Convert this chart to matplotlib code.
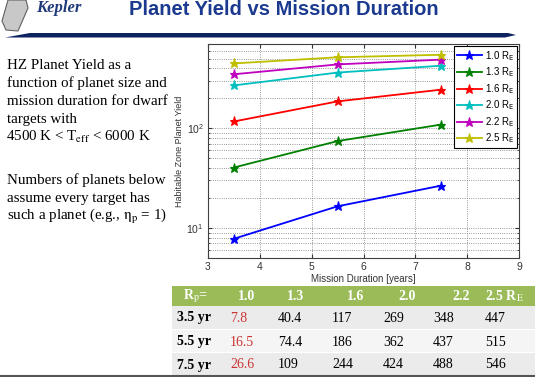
import numpy as np
import matplotlib
import matplotlib.pyplot as plt
from matplotlib.patches import Polygon, Rectangle
from matplotlib.ticker import NullFormatter

plt.rcParams['font.family'] = 'Liberation Sans'

# yield of habitable-zone planets (from the table on the slide)
durations = [3.5, 5.5, 7.5]
duration_labels = ['3.5 yr', '5.5 yr', '7.5 yr']
sizes = ['1.0', '1.3', '1.6', '2.0', '2.2', '2.5']
yield_10 = [7.8, 16.5, 26.6]
yield_13 = [40.4, 74.4, 109]
yield_16 = [117, 186, 244]
yield_20 = [269, 362, 424]
yield_22 = [348, 437, 488]
yield_25 = [447, 515, 546]
table_text = [
    ['7.8', '40.4', '117', '269', '348', '447'],
    ['16.5', '74.4', '186', '362', '437', '515'],
    ['26.6', '109', '244', '424', '488', '546'],
]

W, H = 535, 377
def fx(x):
    return x / W
def fy(y):
    return 1 - y / H

fig = plt.figure(figsize=(W / 100, H / 100), dpi=100)
fig.patch.set_facecolor('white')

# ---- header: logo, title, rule
fig.patches.append(Polygon([(fx(8), fy(0)), (fx(26), fy(0)), (fx(28), fy(8)),
                            (fx(18), fy(31)), (fx(6), fy(30)), (fx(2), fy(21))],
                           closed=True, transform=fig.transFigure,
                           facecolor='#c8c8c8', edgecolor='#606060', lw=0.8))
fig.text(fx(36), fy(12), 'Kepler', family='Liberation Serif', style='italic',
         weight='bold', fontsize=12, color='#1f3a7a', va='baseline')
fig.text(fx(284), fy(15), 'Planet Yield vs Mission Duration', ha='center',
         va='baseline', fontsize=14.5, weight='bold', color='#1b3a8f')
fig.patches.append(Polygon([(fx(5), fy(37.5)), (fx(30), fy(33)), (fx(508), fy(33)),
                            (fx(516), fy(35)), (fx(505), fy(37.5))],
                           closed=True, transform=fig.transFigure,
                           facecolor='#0d2260', edgecolor='none'))

# ---- left description
serif = dict(family='Liberation Serif', math_fontfamily='stix', fontsize=10.8,
             va='baseline', color='black')
lines1 = ['HZ Planet Yield as a', 'function of planet size and',
          'mission duration for dwarf', 'targets with',
          r'4500 K < T$_{\mathrm{eff}}$ < 6000 K']
for i, s in enumerate(lines1):
    fig.text(fx(6 if i == 4 else 7), fy(69 + 18 * i), s, **serif)
lines2 = ['Numbers of planets below', 'assume every target has',
          r'such a planet (e.g., $\mathrm{\eta}_{\mathrm{p}}$ = 1)']
for i, s in enumerate(lines2):
    fig.text(fx(7), fy(184 + 18 * i), s, **serif)

# ---- chart
ax = fig.add_axes([fx(208), fy(258), (519 - 208) / W, (258 - 44) / H])
colors = ['#0000ff', '#008000', '#ff0000', '#00bfbf', '#bf00bf', '#bfbf00']
series = [yield_10, yield_13, yield_16, yield_20, yield_22, yield_25]
for s, c, lab in zip(series, colors, sizes):
    ax.plot(durations, s, color=c, lw=1.3, marker='*', ms=6.5, mew=0.8,
            label=lab + r' R$_{\mathrm{E}}$')

ax.set_yscale('log')
ax.set_xlim(3, 9)
ax.set_ylim(5, 700)
ax.set_xticks(range(3, 10))
ax.yaxis.set_minor_formatter(NullFormatter())
ax.grid(True, which='major', linestyle=':', color='#777777', lw=0.6)
ax.grid(True, which='minor', axis='y', linestyle=':', color='#777777', lw=0.6)
ax.tick_params(which='both', direction='in', top=True, right=True,
               labelsize=7.5, colors='#333333', pad=3)
ax.tick_params(which='major', length=3)
ax.tick_params(which='minor', length=1.5)
for sp in ax.spines.values():
    sp.set_color('#404040')
    sp.set_linewidth(0.8)
ax.set_xlabel('Mission Duration [years]', fontsize=7, color='#333333', labelpad=1)
ax.set_ylabel('Habitable Zone Planet Yield', fontsize=6.5, color='#333333', labelpad=2)

leg = ax.legend(loc='upper right', fontsize=7, fancybox=False, framealpha=1,
                edgecolor='black', borderaxespad=0.2, handlelength=2.6,
                labelspacing=0.28, handletextpad=0.3, borderpad=0.3)
leg.get_frame().set_linewidth(0.8)

# ---- table
tx0, tx1 = 172, 535
row_edges = [286, 306, 330, 353, 377]
fig.patches.append(Rectangle((fx(tx0), fy(row_edges[1])), (tx1 - tx0) / W,
                             (row_edges[1] - row_edges[0]) / H,
                             transform=fig.transFigure, facecolor='#9bbb59',
                             edgecolor='none'))
row_colors = ['#ebebeb', '#f5f5f5', '#ebebeb']
for r in range(3):
    fig.patches.append(Rectangle((fx(tx0), fy(row_edges[r + 2] - 1)), (tx1 - tx0) / W,
                                 (row_edges[r + 2] - row_edges[r + 1] - 1) / H,
                                 transform=fig.transFigure, facecolor=row_colors[r],
                                 edgecolor='none'))

tab = dict(family='Liberation Serif', math_fontfamily='stix', fontsize=10,
           va='center')
head_x = [238, 287, 347, 398, 452, 485]
fig.text(fx(183), fy(296), r'R$_{\mathrm{p}}$=', color='white', weight='bold', **tab)
for i, s in enumerate(sizes):
    lab = s + (r' R$_{\mathrm{E}}$' if i == len(sizes) - 1 else '')
    fig.text(fx(head_x[i]), fy(296), lab, color='white', weight='bold', **tab)

col_x = [230, 278, 332, 383, 433, 485]
row_y = [318, 342, 365]
for r in range(3):
    fig.text(fx(177), fy(row_y[r]), duration_labels[r], color='black',
             weight='bold', **tab)
    for c in range(6):
        fig.text(fx(col_x[c]), fy(row_y[r]), table_text[r][c],
                 color='#cc3333' if c == 0 else 'black', **tab)

fig.lines.append(matplotlib.lines.Line2D([0, 1], [fy(375.5), fy(375.5)],
                                         transform=fig.transFigure,
                                         color='#555555', lw=1.5))

fig.savefig('out.png', dpi=100)
